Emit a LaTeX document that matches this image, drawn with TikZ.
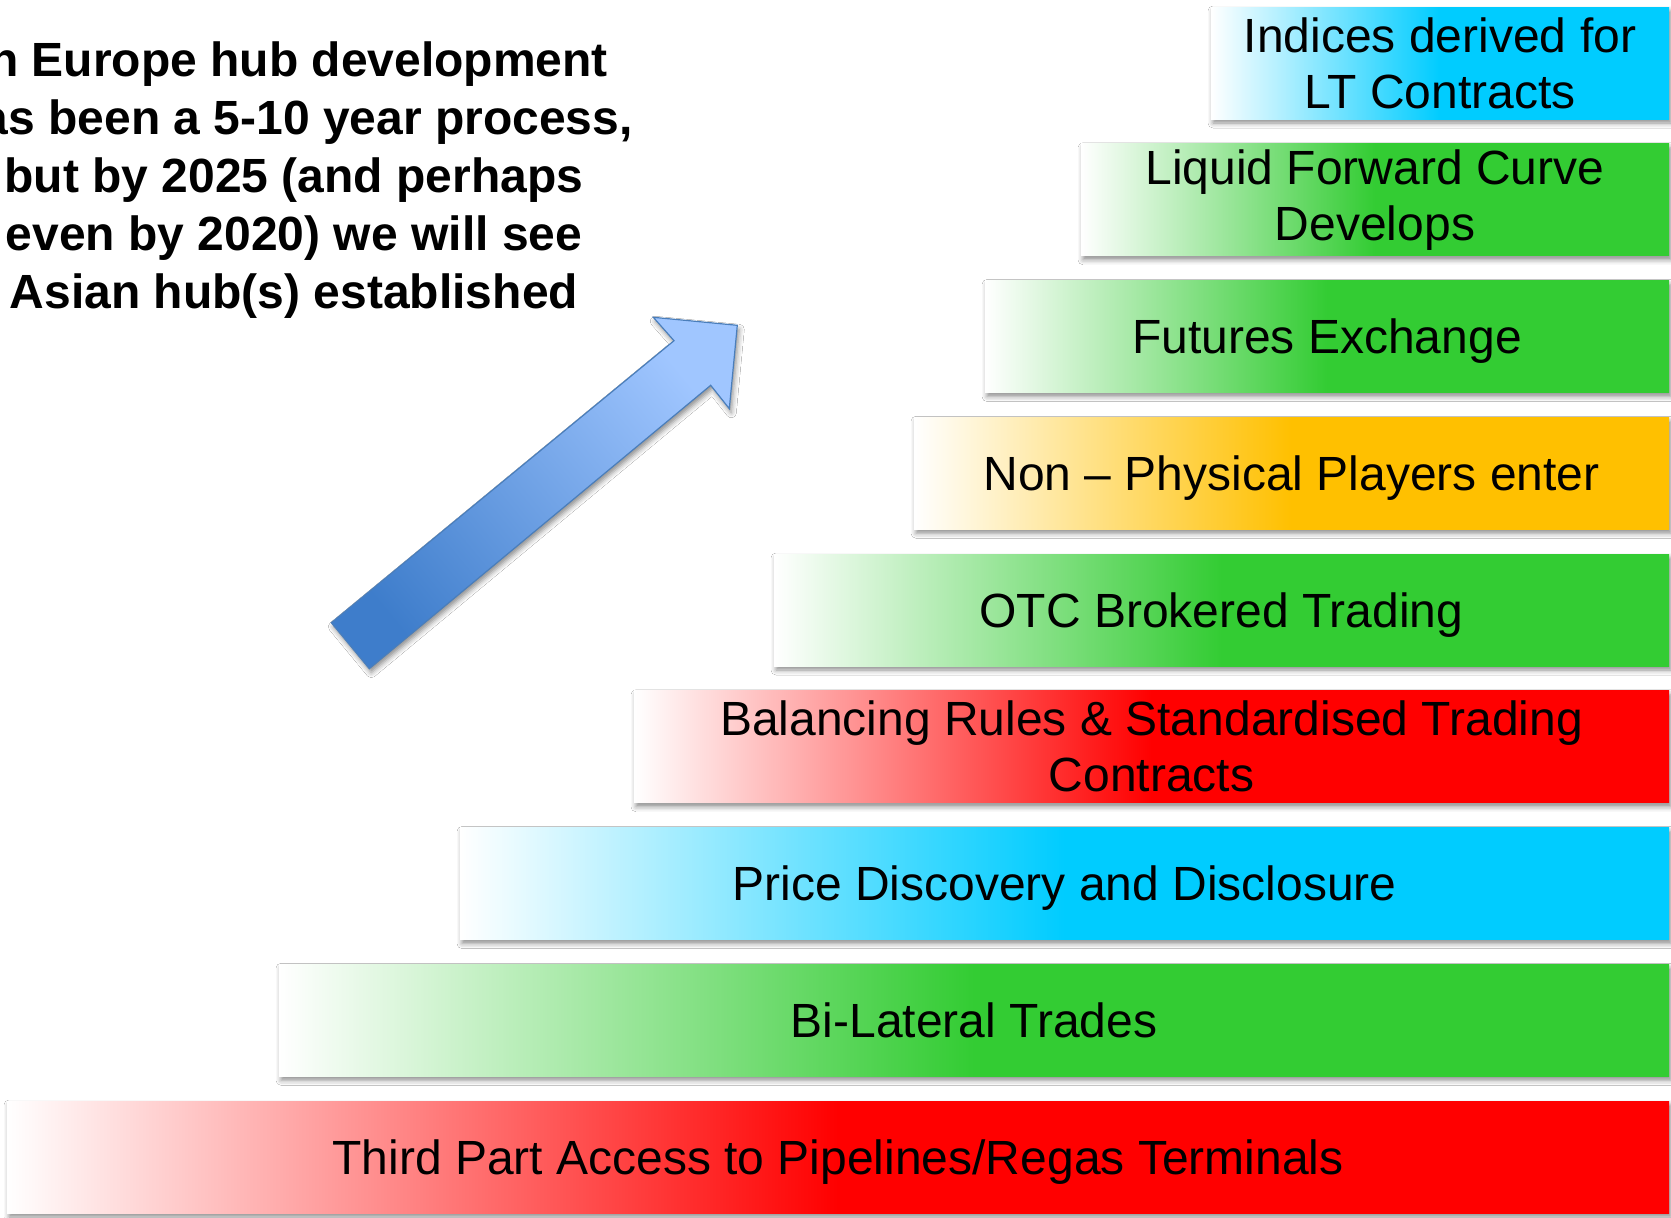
\documentclass[tikz,border=0pt]{standalone}
\usepackage{fontspec}
\setmainfont{Liberation Sans}
\usetikzlibrary{shadows.blur}
\definecolor{barred}{HTML}{FF0000}
\definecolor{bargreen}{HTML}{33CC33}
\definecolor{barcyan}{HTML}{00CCFF}
\definecolor{barorange}{HTML}{FFC000}
\definecolor{arrowdark}{HTML}{3E7DCB}
\definecolor{arrowlight}{HTML}{A0C6FF}
\definecolor{arrowline}{HTML}{4A7EBB}
\colorlet{stepcol}{barred}
% white on the left half, fading into the step colour at the middle
\pgfdeclarehorizontalshading[stepcol]{stairfade}{100bp}{color(0bp)=(white); color(25bp)=(white); color(50bp)=(stepcol); color(100bp)=(stepcol)}
\begin{document}
\begin{tikzpicture}[x=1pt,y=-1pt,
  softshadow/.style={blur shadow={shadow xshift=2pt, shadow yshift=-4pt,
      shadow blur radius=5pt, shadow opacity=45}},
  stair/.style={anchor=north west, inner sep=0pt, outer sep=0pt,
    minimum height=112pt, align=center,
    font=\fontsize{48}{56}\selectfont, fill=#1, softshadow,
    /utils/exec={\colorlet{stepcol}{#1}}, shade, shading=stairfade, shading angle=0},
  oneline/.style={text height=40.8pt, text depth=6.4pt},
  headline/.style={anchor=base, inner sep=0pt,
    font=\fontsize{48}{56}\selectfont\bfseries}]

% canvas
\fill[white] (0,0) rectangle (1671,1218);
\useasboundingbox (0,0) rectangle (1671,1218);

% staircase of steps, bottom to top
\node[stair=barred,    oneline, minimum width=1662pt] (s0) at (7,1101)    {Third Part Access to Pipelines/Regas Terminals};
\node[stair=bargreen,  oneline, minimum width=1390pt] (s1) at (279,964.25) {Bi-Lateral Trades};
\node[stair=barcyan,   oneline, minimum width=1209pt] (s2) at (460,827.5)  {Price Discovery and Disclosure};
\node[stair=barred,    minimum width=1035pt] (s3) at (634,690.75) {Balancing Rules \& Standardised Trading\\Contracts};
\node[stair=bargreen,  oneline, minimum width=895pt]  (s4) at (774,554)    {OTC Brokered Trading};
\node[stair=barorange, oneline, minimum width=755pt]  (s5) at (914,417.25) {Non -- Physical Players enter};
\node[stair=bargreen,  oneline, minimum width=684pt]  (s6) at (985,280.5)  {Futures Exchange};
\node[stair=bargreen,  minimum width=588pt]  (s7) at (1081,143.75) {Liquid Forward Curve\\Develops};
\node[stair=barcyan,   minimum width=458pt]  (s8) at (1211,7)     {Indices derived for\\LT Contracts};

% rising block arrow
\shadedraw[top color=arrowlight, bottom color=arrowdark, shading angle=-50.5,
  draw=arrowline, line width=1.2pt, line join=miter, softshadow]
  (331.3,622.7) -- (674,340.7) -- (653.3,317.3) -- (737.3,325.3)
  -- (729.3,408.7) -- (710.7,385.3) -- (369.3,668.7) -- cycle;

% headline statement
\node[headline, anchor=base east] (h1) at (608,76.5) {n Europe hub development};
\node[headline, anchor=base east] (h2) at (633,134)  {as been a 5-10 year process,};
\node[headline] (h3) at (294,192.5) {but by 2025 (and perhaps};
\node[headline] (h4) at (294,250.3) {even by 2020) we will see};
\node[headline] (h5) at (294,308)   {Asian hub(s) established};
\end{tikzpicture}
\end{document}
